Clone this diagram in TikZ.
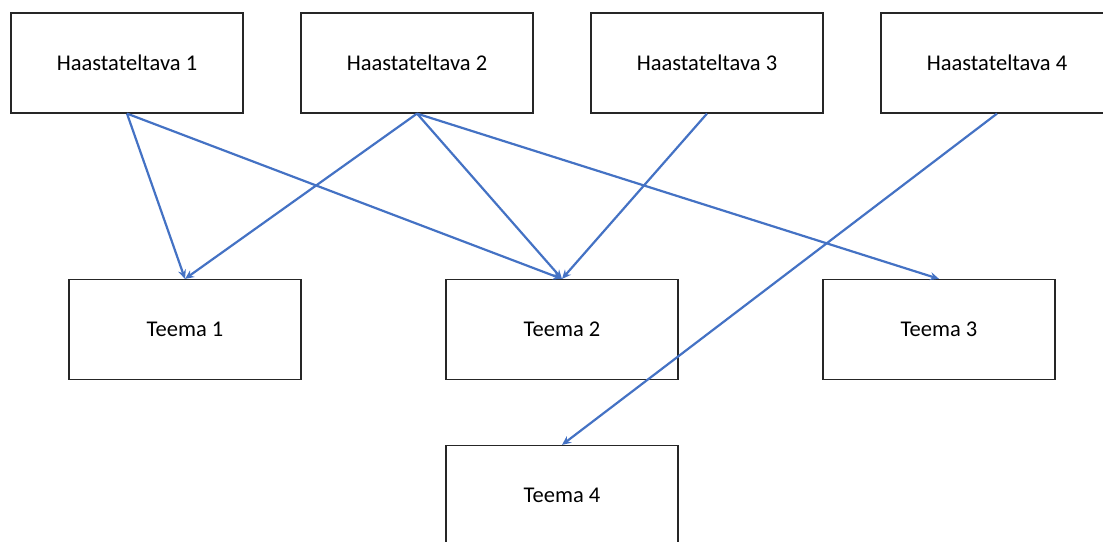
\documentclass[tikz,border=0pt]{standalone}
\usepackage{fontspec}
\setmainfont{Carlito}
\usetikzlibrary{arrows.meta}
\begin{document}
\begin{tikzpicture}[x=1pt,y=-1pt,
  box/.style={draw=black!85, line width=1.2pt, minimum width=232pt, minimum height=100pt, inner sep=0pt, font=\fontsize{22.5}{27}\selectfont},
  link/.style={draw={rgb,255:red,68;green,114;blue,196}, line width=2.2pt, -{Stealth[length=9pt,width=8pt]}}]
\useasboundingbox (0,0) rectangle (1103,541);
\node[box] (h1) at (127,63) {Haastateltava 1};
\node[box] (h2) at (417,63) {Haastateltava 2};
\node[box] (h3) at (707,63) {Haastateltava 3};
\node[box] (h4) at (997,63) {Haastateltava 4};
\node[box] (t1) at (185,329.5) {Teema 1};
\node[box] (t2) at (562,329.5) {Teema 2};
\node[box] (t3) at (939,329.5) {Teema 3};
\node[box] (t4) at (562,495.5) {Teema 4};
\draw[link] (h1.south) -- (t1.north);
\draw[link] (h1.south) -- (t2.north);
\draw[link] (h2.south) -- (t1.north);
\draw[link] (h2.south) -- (t2.north);
\draw[link] (h2.south) -- (t3.north);
\draw[link] (h3.south) -- (t2.north);
\draw[link] (h4.south) -- (t4.north);
\end{tikzpicture}
\end{document}
